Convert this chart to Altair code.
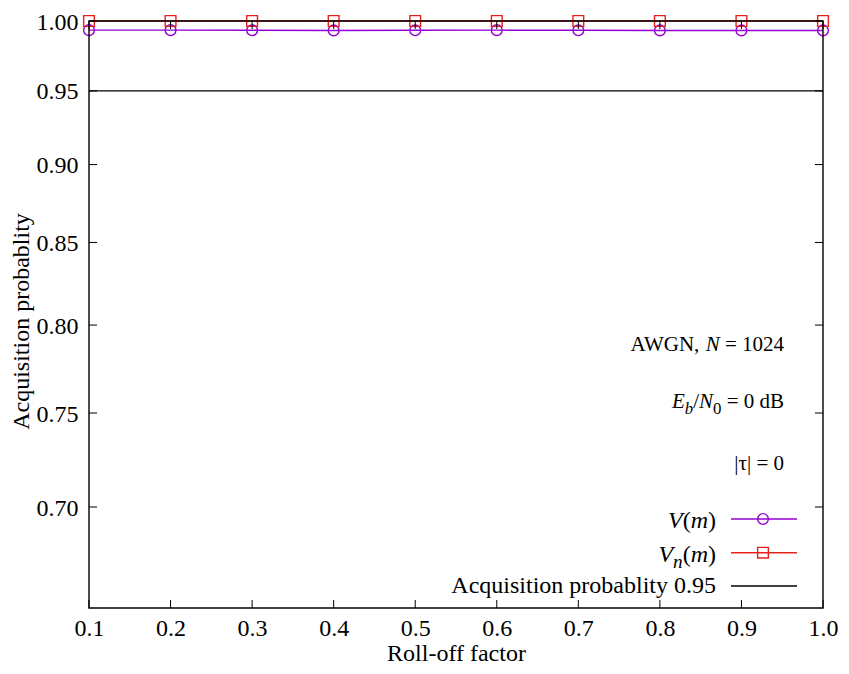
import altair as alt
import pandas as pd

# ---------------- data ----------------
rolloff = [0.1, 0.2, 0.3, 0.4, 0.5, 0.6, 0.7, 0.8, 0.9, 1.0]
v_m = [0.9933, 0.9933, 0.9932, 0.9931, 0.9932, 0.9933, 0.9932, 0.9931, 0.9931, 0.9931]
vn_m = [1.0, 1.0, 1.0, 1.0, 1.0, 1.0, 1.0, 1.0, 1.0, 1.0]
threshold = [0.95]
x_ticks = [0.1, 0.2, 0.3, 0.4, 0.5, 0.6, 0.7, 0.8, 0.9, 1.0]
y_ticks = [0.70, 0.75, 0.80, 0.85, 0.90, 0.95, 1.00]
series_names = ["V(m)", "Vn(m)"]
series_colors = ["#9400d3", "#e8201a"]
series_shapes = ["circle", "square"]

# ---------------- layout ----------------
W, H = 734, 587
PAD = {"left": 81, "top": 13, "right": 18, "bottom": 57}
FONT = "Liberation Serif"
AX_FS = 24
LAB_FS = 21
LEG_FS = 24
LW = 1.4
YOFF = 26          # annotation baselines: reference page y minus this

df = pd.DataFrame({
    "rolloff": rolloff * 2,
    "prob": v_m + vn_m,
    "series": [series_names[0]] * len(rolloff) + [series_names[1]] * len(rolloff),
})

xs = alt.Scale(domain=[0.1, 1.0], nice=False, zero=False)
ys = alt.Scale(type="log", domain=[0.65, 1.0], nice=False)

x_axis = alt.Axis(values=x_ticks, format=".1f", tickSize=0, domain=False, grid=False,
                  labelFont=FONT, labelFontSize=AX_FS, labelColor="black", labelPadding=8,
                  labelFlush=False, labelOverlap=False,
                  title="Roll-off factor", titleFont=FONT, titleFontSize=AX_FS,
                  titleFontWeight="normal", titleColor="black", titleBaseline="alphabetic",
                  titleX=W / 2, titleY=52, titleAlign="center")
y_axis = alt.Axis(values=y_ticks, format=".2f", tickSize=0, domain=False, grid=False,
                  labelFont=FONT, labelFontSize=AX_FS, labelColor="black", labelPadding=11,
                  labelFlush=False, labelOverlap=False, labelOffset=1,
                  title="Acquisition probablity", titleFont=FONT, titleFontSize=AX_FS,
                  titleFontWeight="normal", titleColor="black", titleAngle=270,
                  titleBaseline="alphabetic", titleAlign="center", titleX=-61, titleY=300)

X = alt.X("rolloff:Q", scale=xs, axis=x_axis)
Y = alt.Y("prob:Q", scale=ys, axis=y_axis)
color = alt.Color("series:N", scale=alt.Scale(domain=series_names, range=series_colors), legend=None)
shape = alt.Shape("series:N", scale=alt.Scale(domain=series_names, range=series_shapes), legend=None)

lines = alt.Chart(df).mark_line(strokeWidth=LW).encode(x=X, y=Y, color=color, detail="series:N")
points = alt.Chart(df).mark_point(filled=False, size=115, strokeWidth=LW, opacity=1).encode(
    x=X, y=Y, color=color, shape=shape)
thr = alt.Chart(pd.DataFrame({"prob": threshold})).mark_rule(color="black", strokeWidth=LW).encode(y=Y)

xt = pd.DataFrame({"rolloff": x_ticks})
yt = pd.DataFrame({"prob": y_ticks})
tick_layers = [
    alt.Chart(xt).mark_rule(color="black", strokeWidth=1).encode(x=X, y=alt.value(H), y2=alt.value(H - 8)),
    alt.Chart(xt).mark_rule(color="black", strokeWidth=1).encode(x=X, y=alt.value(0), y2=alt.value(8)),
    alt.Chart(yt).mark_rule(color="black", strokeWidth=1).encode(y=Y, x=alt.value(0), x2=alt.value(8)),
    alt.Chart(yt).mark_rule(color="black", strokeWidth=1).encode(y=Y, x=alt.value(W), x2=alt.value(W - 8)),
]

dummy = pd.DataFrame({"d": [0]})
border = alt.Chart(dummy).mark_rect(fillOpacity=0, stroke="black", strokeWidth=LW).encode(
    x=alt.value(0), x2=alt.value(W), y=alt.value(0), y2=alt.value(H))

# ---------------- text helpers ----------------
ROMAN = {" ": .25, "=": .564, "0": .5, "1": .5, "2": .5, "4": .5, "d": .5, "B": .667,
         "(": .333, ")": .333, "/": .278, "\u00a0": .25}
ITAL = {"V": .611, "m": .722, "n": .5, "E": .611, "N": .667, "b": .5}


def width(s, italic, size):
    tab = ITAL if italic else ROMAN
    return sum(tab.get(c, .5) for c in s) * size


def rich(pieces, right, base, size):
    """pieces: list of (text, italic, sub, gap_before_em); laid out right-to-left from `right`."""
    layers = []
    x = right
    for text, italic, sub, gap in reversed(pieces):
        fs = size * 0.8 if sub else size
        yb = base + (size * 0.27 if sub else 0)
        layers.append(alt.Chart(dummy).mark_text(
            font=FONT, fontSize=fs, fontStyle="italic" if italic else "normal",
            align="right", baseline="alphabetic", color="black").encode(
            x=alt.value(x), y=alt.value(yb), text=alt.value(text)))
        x -= width(text, italic, fs) + gap * size
    return layers


LAB_R = W - 39       # right edge of the annotation labels
LEG_R = W - 107      # right edge of legend texts
texts = []
texts += rich([("AWGN,", False, False, 0), ("N", True, False, 0.3), ("= 1024", False, False, 0.25)],
              LAB_R, 355.7 - YOFF, LAB_FS)
texts += rich([("E", True, False, 0), ("b", True, True, 0), ("/", False, False, 0), ("N", True, False, 0),
               ("0", False, True, 0), ("= 0 dB", False, False, 0.25)],
              LAB_R, 413.3 - YOFF, LAB_FS)
texts += rich([("|\u03c4| = 0", False, False, 0)], LAB_R, 475 - YOFF, LAB_FS)
texts += rich([("V", True, False, 0), ("(", False, False, 0), ("m", True, False, 0), (")", False, False, 0)],
              LEG_R, 532.7 - YOFF, LEG_FS)
texts += rich([("V", True, False, 0), ("n", True, True, 0), ("(", False, False, 0), ("m", True, False, 0),
               (")", False, False, 0)], LEG_R, 566.7 - YOFF, LEG_FS)
texts += rich([("Acquisition probablity 0.95", False, False, 0)], LEG_R, 598.3 - YOFF, LEG_FS)

# legend samples
leg_y = [524 - YOFF, 557.7 - YOFF, 591 - YOFF]
leg_col = series_colors + ["black"]
legend_layers = []
for yy, cc in zip(leg_y, leg_col):
    legend_layers.append(alt.Chart(dummy).mark_rule(color=cc, strokeWidth=LW).encode(
        x=alt.value(W - 92), x2=alt.value(W - 26), y=alt.value(yy)))
for yy, cc, sh in zip(leg_y[:2], series_colors, series_shapes):
    legend_layers.append(alt.Chart(dummy).mark_point(filled=False, size=115, strokeWidth=LW,
                                                     color=cc, shape=sh, opacity=1).encode(
        x=alt.value(W - 60), y=alt.value(yy)))

chart = alt.layer(lines, points, thr, *tick_layers, border, *texts, *legend_layers).properties(
    width=W, height=H,
    autosize=alt.AutoSizeParams(type="none"),
    padding=PAD,
    background="white",
).configure_view(stroke=None)

chart.save("out.html", embed_options={"renderer": "svg", "actions": False})
